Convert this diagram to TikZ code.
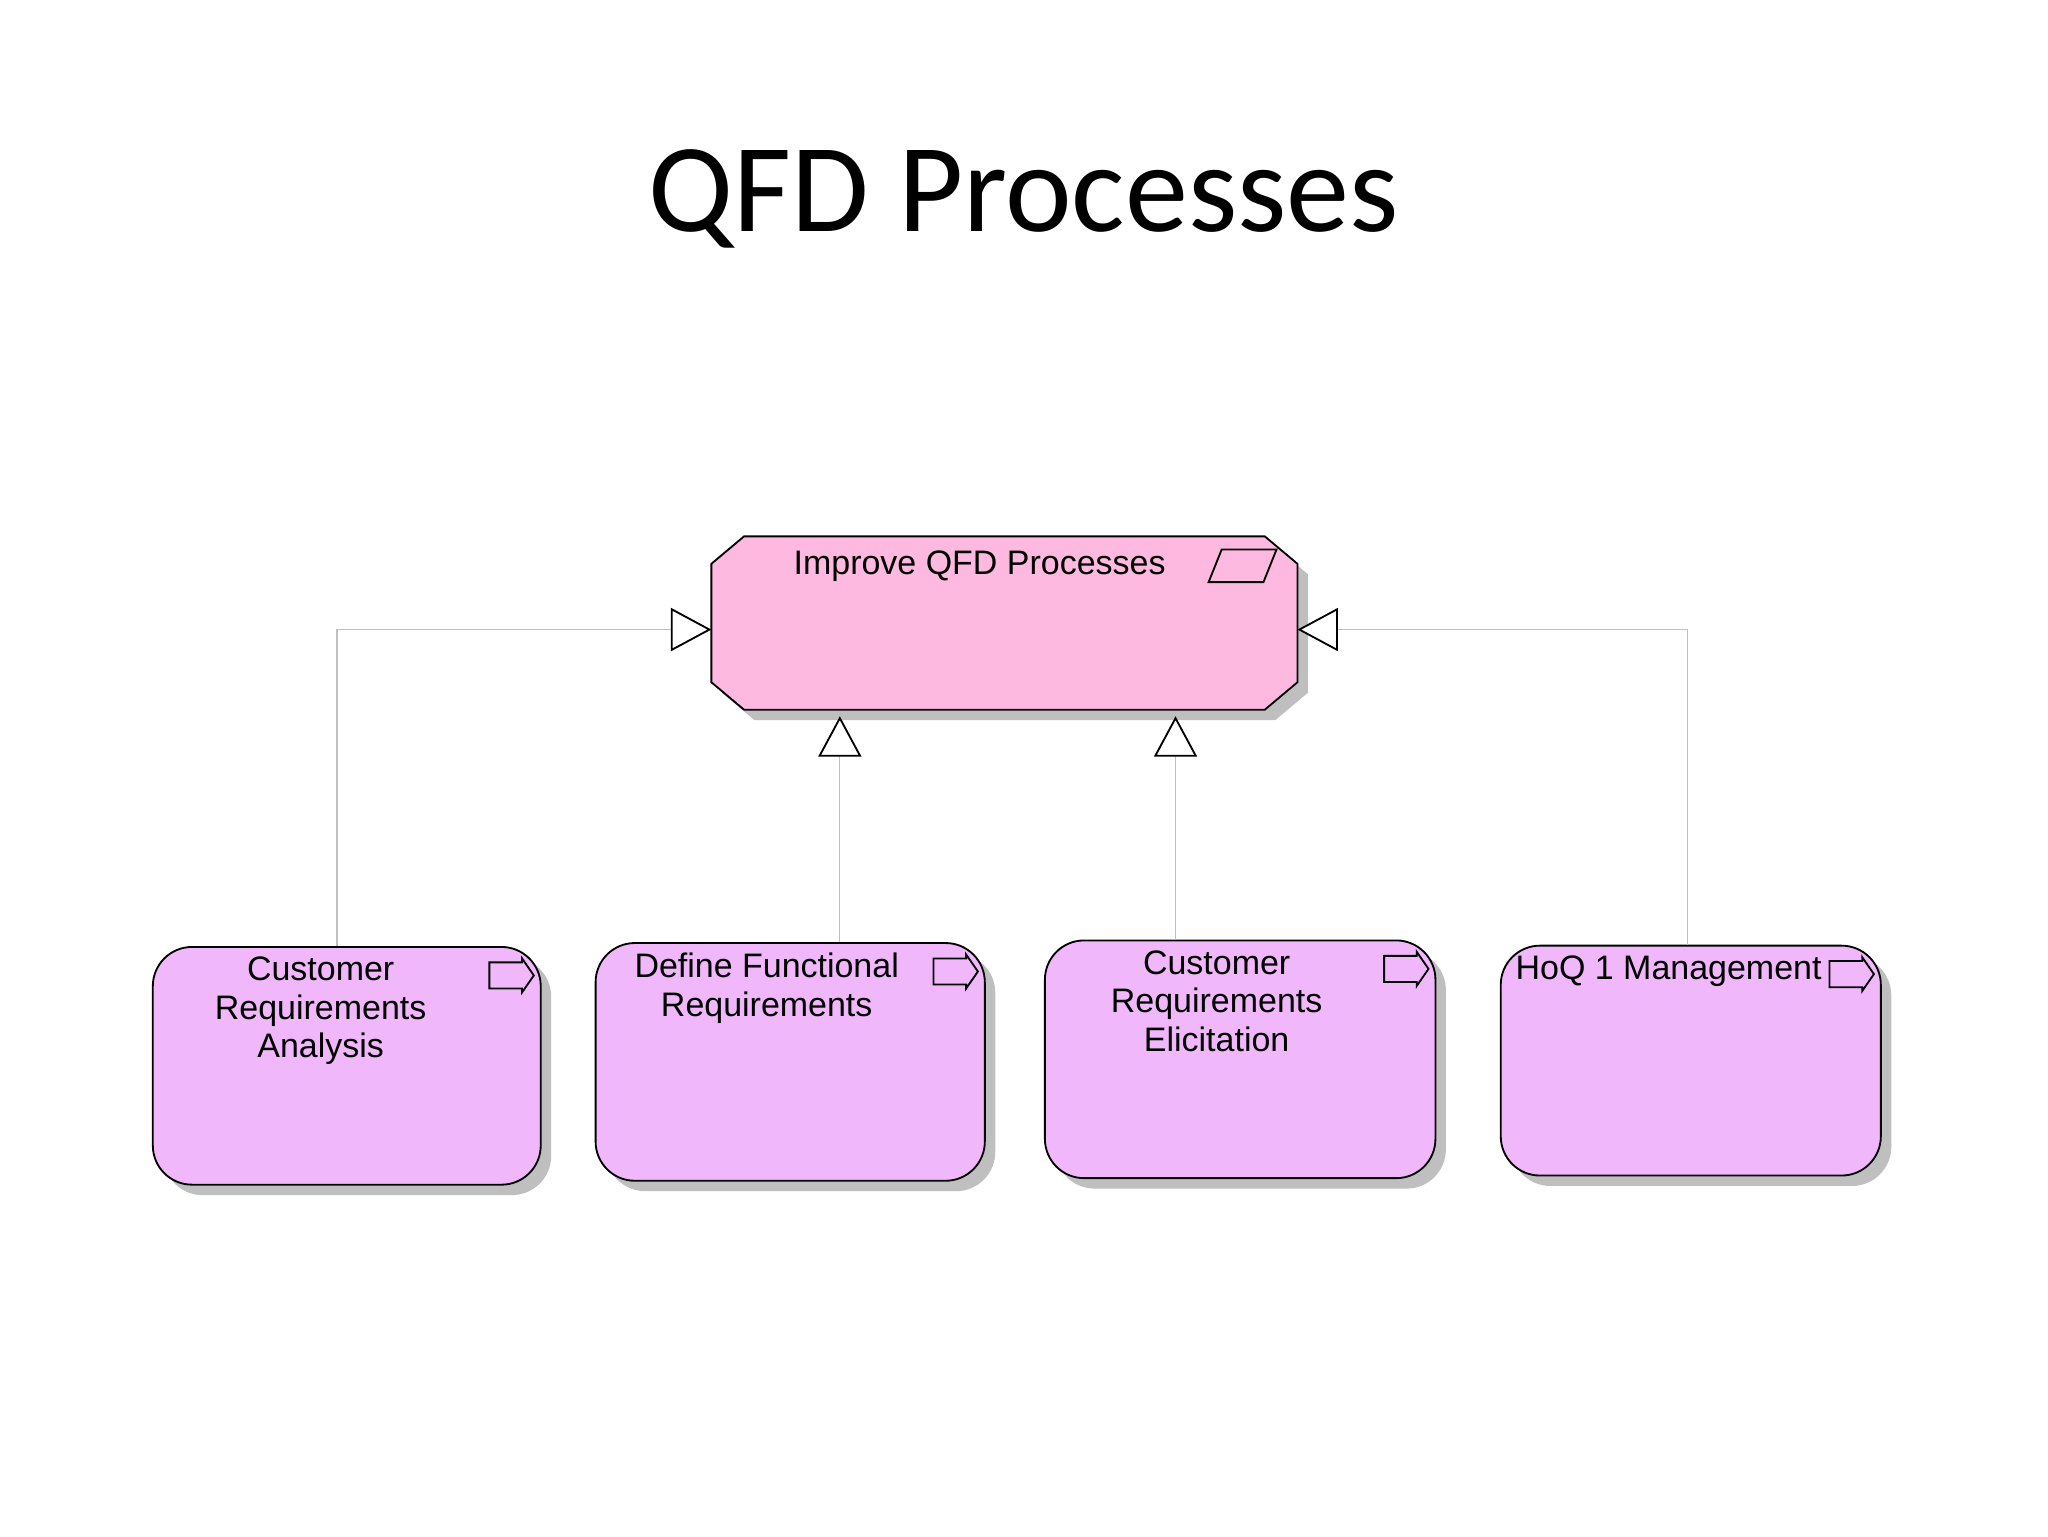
\documentclass[tikz,border=0pt]{standalone}
\usepackage{fontspec}
\setmainfont{Liberation Sans}
\newfontfamily\titlefont{Carlito}
\usetikzlibrary{
  positioning,
  arrows.meta,
  shadows
}

\begin{document}
\begin{tikzpicture}[
    every node/.style={font=\fontsize{14.8}{16.8}\selectfont},
    shade/.style={drop shadow={shadow xshift=0.16cm, shadow yshift=-0.16cm, fill=black!25, opacity=1}},
    goal/.style={minimum width=8.96cm, minimum height=2.64cm, inner sep=0pt},
    goalfill/.style={draw, line width=0.8pt, fill={rgb,255:red,253;green,185;blue,224}, shade},
    proc/.style={rounded corners=0.6cm, draw, line width=0.8pt, fill={rgb,255:red,240;green,184;blue,250},
                 minimum width=5.94cm, minimum height=3.64cm, inner sep=0pt, shade},
    txt/.style={align=center, inner sep=0pt},
    link/.style={draw=black!25, line width=0.5pt},
    spec/.style={-{Triangle[open, length=0.62cm, width=0.66cm, color=black, fill=white, line width=0.8pt]}}
  ]
  \useasboundingbox (0,0) rectangle (31.36,-23.52);

  \node[font=\titlefont\fontsize{55}{62}\selectfont] (title) at (15.68,-3.05) {QFD Processes};

  % the goal
  \node[goal] (top) at (15.38,-9.54) {};
  \path[goalfill] ([xshift=0.5cm]top.north west) -- ([xshift=-0.5cm]top.north east)
    -- ([yshift=-0.42cm]top.north east) -- ([yshift=0.42cm]top.south east)
    -- ([xshift=-0.5cm]top.south east) -- ([xshift=0.5cm]top.south west)
    -- ([yshift=0.42cm]top.south west) -- ([yshift=-0.42cm]top.north west) -- cycle;
  \node[txt, below=0.22cm of top.north, xshift=-0.38cm] (toptxt) {Improve QFD Processes};
  \draw[line width=0.8pt] (top.north east) ++(-1.16,-0.2) -- ++(0.84,0) -- ++(-0.2,-0.5) -- ++(-0.84,0) -- cycle;

  % the processes
  \node[proc] (b1) at (5.31,-16.32) {};
  \node[proc, minimum width=5.96cm] (b2) at (12.10,-16.26) {};
  \node[proc, minimum width=5.98cm] (b3) at (18.99,-16.22) {};
  \node[proc, minimum width=5.82cm, minimum height=3.52cm] (b4) at (25.89,-16.24) {};

  \node[txt, below=0.16cm of b1.north, xshift=-0.4cm] (t1) {Customer\\Requirements\\Analysis};
  \node[txt, below=0.16cm of b2.north, xshift=-0.36cm] (t2) {Define Functional\\Requirements};
  \node[txt, below=0.16cm of b3.north, xshift=-0.36cm] (t3) {Customer\\Requirements\\Elicitation};
  \node[txt, below=0.16cm of b4.north, xshift=-0.34cm] (t4) {HoQ 1 Management};

  \foreach \b in {b1,b2,b3,b4}
    \draw[line width=0.8pt] (\b.north east) ++(-0.8,-0.25) -- ++(0.5,0) -- ++(0,0.06) -- ++(0.18,-0.26)
      -- ++(-0.18,-0.26) -- ++(0,0.06) -- ++(-0.5,0) -- cycle;

  % links
  \coordinate (c1) at (5.16,0);
  \coordinate (c2) at (12.86,0);
  \coordinate (c3) at (18.0,0);
  \coordinate (c4) at (25.84,0);
  \draw[link, spec] (b1.north -| c1) |- ([yshift=-0.1cm]top.west);
  \draw[link, spec] (b2.north -| c2) -- ([yshift=-0.1cm]top.south -| c2);
  \draw[link, spec] (b3.north -| c3) -- ([yshift=-0.1cm]top.south -| c3);
  \draw[link, spec] (b4.north -| c4) |- ([yshift=-0.1cm]top.east);
\end{tikzpicture}
\end{document}
